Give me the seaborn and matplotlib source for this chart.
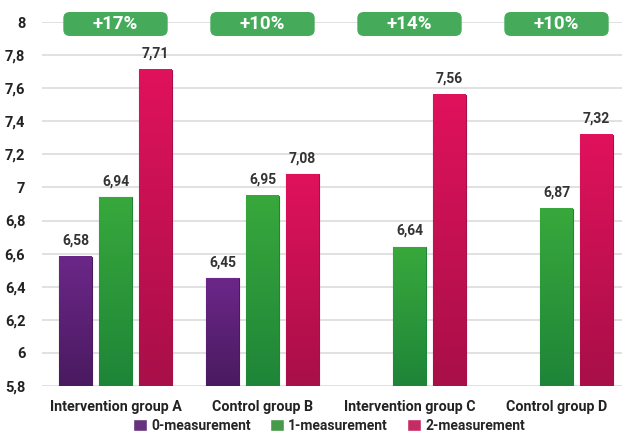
import numpy as np
import pandas as pd
import seaborn as sns
import matplotlib.pyplot as plt
from matplotlib.patches import FancyBboxPatch
import matplotlib.colors as mcolors

groups = ["Intervention group A", "Control group B", "Intervention group C", "Control group D"]
measurements = ["0-measurement", "1-measurement", "2-measurement"]
m0 = [6.58, 6.45, np.nan, np.nan]
m1 = [6.94, 6.95, 6.64, 6.87]
m2 = [7.71, 7.08, 7.56, 7.32]
badges = ["+17%", "+10%", "+14%", "+10%"]

colors = ["#6b2788", "#38a83c", "#e0125c"]
dark = ["#4a1a60", "#1e8538", "#a80f48"]


def main():
    rows = []
    for i, g in enumerate(groups):
        for m, vals in zip(measurements, [m0, m1, m2]):
            rows.append({"group": g, "measurement": m, "value": vals[i]})
    df = pd.DataFrame(rows)

    sns.set_style("white")
    plt.rcParams["font.family"] = ["Roboto", "DejaVu Sans"]
    fig = plt.figure(figsize=(6.22, 4.34), dpi=100)
    ax = fig.add_axes([42 / 622, 48 / 434, 1 - 42 / 622, (386 - 22) / 434])

    sns.barplot(
        data=df, x="group", y="value", hue="measurement",
        hue_order=measurements, palette=colors,
        width=0.816, gap=0.175, ax=ax, legend=True,
        err_kws={"linewidth": 0},
    )

    ticks = np.round(np.arange(5.8, 8.01, 0.2), 1)
    ax.set_yticks(ticks)
    ax.set_yticklabels([f"{t:g}".replace(".", ",") for t in ticks])
    ax.yaxis.grid(True, color="#dedede", linewidth=1.3)
    ax.set_axisbelow(True)
    sns.despine(ax=ax, left=True, bottom=True, top=True, right=True)
    ax.tick_params(axis="both", length=0)
    ax.tick_params(axis="y", pad=12, labelsize=10.5, labelcolor="#222222")
    ax.tick_params(axis="x", pad=10, labelsize=10.3, labelcolor="#222222")
    for lab in ax.get_xticklabels() + ax.get_yticklabels():
        lab.set_fontweight("bold")
    ax.set_xlabel("")
    ax.set_ylabel("")

    # gradient shading + value labels
    for container, top, bot in zip(ax.containers, colors, dark):
        cmap = mcolors.LinearSegmentedColormap.from_list("g", [bot, top])
        for bar in container:
            h = bar.get_height()
            if np.isnan(h) or h == 0:
                continue
            x0 = bar.get_x()
            w = bar.get_width()
            grad = np.linspace(1, 0, 100).reshape(-1, 1)
            ax.imshow(grad, extent=[x0, x0 + w, 5.8, h], aspect="auto",
                      cmap=cmap, zorder=bar.get_zorder() + 0.1)
            bar.set_edgecolor(bot)
            bar.set_linewidth(0.8)
            ax.text(x0 + w / 2, h + 0.055, f"{h:.2f}".replace(".", ","),
                    ha="center", va="bottom", fontsize=10, fontweight="bold",
                    color="#333333")
    ax.set_xlim(-0.5, 3.5 - 8 / 147)
    ax.set_ylim(5.8, 8)

    # badges
    for i, txt in enumerate(badges):
        bw, bh = 0.71, 0.145
        box = FancyBboxPatch((i - bw / 2, 7.988 - bh / 2), bw, bh,
                             boxstyle="round,pad=0,rounding_size=0.045",
                             mutation_aspect=0.85,
                             facecolor="#45ab5a", edgecolor="none",
                             clip_on=False, zorder=5)
        ax.add_patch(box)
        ax.text(i, 7.985, txt, ha="center", va="center", color="white",
                fontsize=13.5, fontweight="bold", zorder=6, clip_on=False)

    handles, labels = ax.get_legend_handles_labels()
    ax.legend_.remove()
    fig.legend(handles, labels, loc="center", bbox_to_anchor=(329 / 622, 1 - 426 / 434),
               ncol=3, frameon=False, handlelength=1.0, handleheight=1.0,
               handletextpad=0.3, columnspacing=1.4,
               prop={"weight": "bold", "size": 10})

    fig.savefig("out.png", dpi=100)


if __name__ == "__main__":
    main()
